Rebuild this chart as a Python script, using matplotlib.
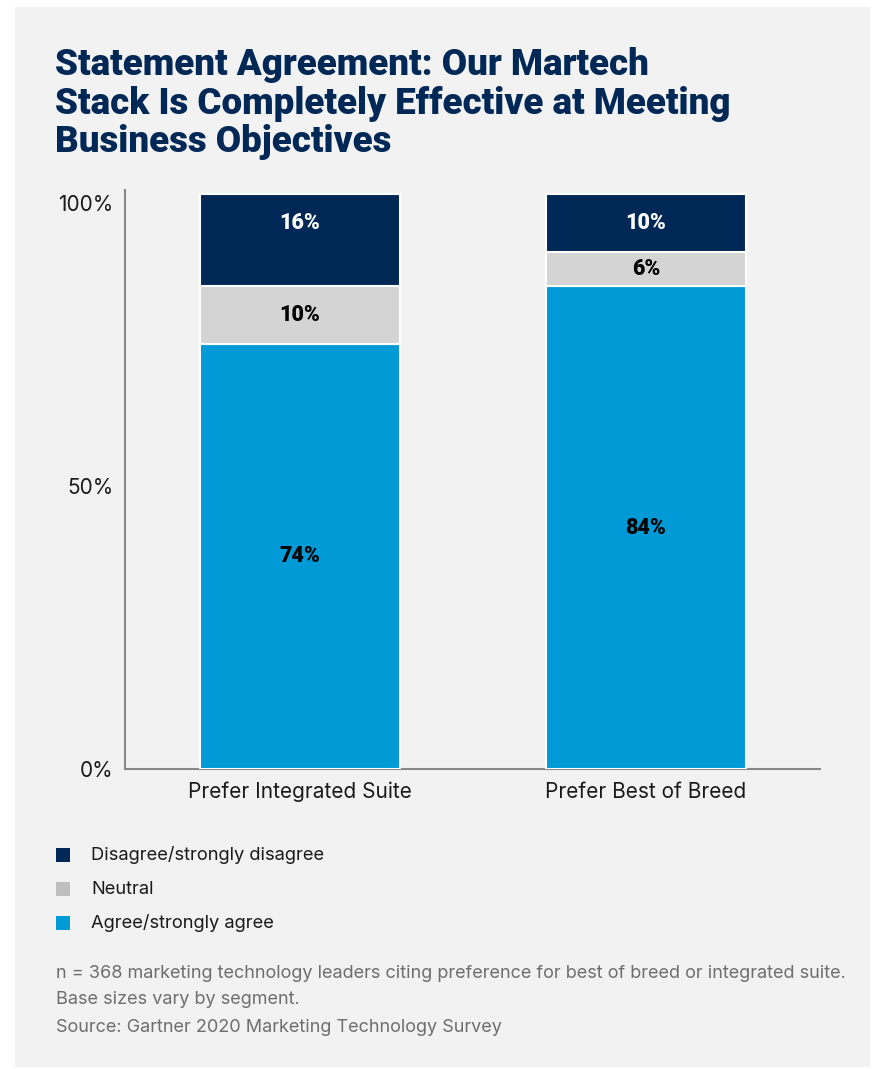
import matplotlib.pyplot as plt
import matplotlib.patches as mpatches
import matplotlib.transforms as mtransforms

# Survey shares per preference group (percent)
groups = ['Prefer Integrated Suite', 'Prefer Best of Breed']
agree = [74, 84]
neutral = [10, 6]
disagree = [16, 10]

series_names = ['Agree/strongly agree', 'Neutral', 'Disagree/strongly disagree']
y_ticks = [0, 50, 100]
y_tick_labels = ['0%', '50%', '100%']

title_lines = ['Statement Agreement: Our Martech',
               'Stack Is Completely Effective at Meeting',
               'Business Objectives']

NAVY = '#002856'
GRAY = '#d4d4d4'
BLUE = '#009ad7'

plt.rcParams['font.family'] = ['Inter', 'DejaVu Sans']

fig = plt.figure(figsize=(8.73, 10.69), dpi=100)
fig.patch.set_facecolor('white')

# light panel behind everything
fig.patches.append(mpatches.Rectangle((15 / 873, 2 / 1069), 855 / 873, 1060 / 1069,
                                      transform=fig.transFigure, facecolor='#f2f2f2',
                                      edgecolor='none', zorder=-10))

# title, one line at a time so the baselines stay fixed
for i, line in enumerate(title_lines):
    fig.text(55 / 873, 1 - (75 + i * 38.5) / 1069, line,
             fontsize=26.5, fontweight='black', color=NAVY, va='baseline', ha='left',
             family=['Roboto', 'DejaVu Sans'])

ax = fig.add_axes([125 / 873, 1 - 769 / 1069, 695 / 873, 579 / 1069])
ax.set_facecolor('none')

x = list(range(len(groups)))
width = 0.58
colors = [BLUE, GRAY, NAVY]
bottom = [0, 0]
for vals, col in zip([agree, neutral, disagree], colors):
    bars = ax.bar(x, vals, width, bottom=bottom, color=col, edgecolor='white',
                  linewidth=1.5)
    for b, v, b0 in zip(bars, vals, bottom):
        # top segment labels sit near the top of the bar
        yl = b0 + v - 5 if col == NAVY else b0 + v / 2
        ax.text(b.get_x() + b.get_width() / 2, yl, f'{v}%',
                ha='center', va='center', fontsize=15.5, fontweight='black',
                color='white' if col == NAVY else 'black',
                family=['Roboto', 'DejaVu Sans'])
    bottom = [b0 + v for b0, v in zip(bottom, vals)]

ax.set_xlim(-0.506, 1.503)
ax.set_ylim(0, 100.7)
ax.set_yticks(y_ticks)
ax.set_yticklabels(y_tick_labels)
ax.set_xticks(x)
ax.set_xticklabels(groups)
ax.tick_params(length=0, colors='#1a1a1a')
ax.tick_params(axis='y', pad=8.5, labelsize=15)
ax.tick_params(axis='x', pad=9, labelsize=15)
for lab, dy in zip(ax.get_yticklabels(), [0, 4, 9]):
    lab.set_transform(lab.get_transform() +
                      mtransforms.ScaledTranslation(0, -dy / 100, fig.dpi_scale_trans))
for s in ['top', 'right']:
    ax.spines[s].set_visible(False)
for s in ['left', 'bottom']:
    ax.spines[s].set_color('#888888')
    ax.spines[s].set_linewidth(1.5)
    ax.spines[s].set_zorder(0)

# legend, top to bottom
legend_items = [(NAVY, series_names[2]), ('#bfbfbf', series_names[1]), (BLUE, series_names[0])]
for i, (col, name) in enumerate(legend_items):
    yc = 1 - (855 + i * 34) / 1069
    fig.patches.append(mpatches.Rectangle((56 / 873, yc - 7 / 1069), 14 / 873, 14 / 1069,
                                          transform=fig.transFigure, facecolor=col,
                                          edgecolor='none'))
    fig.text(91 / 873, yc, name, fontsize=13.2, color='#1a1a1a', va='center', ha='left')

notes = ['n = 368 marketing technology leaders citing preference for best of breed or integrated suite.',
         'Base sizes vary by segment.',
         'Source: Gartner 2020 Marketing Technology Survey']
for i, line in enumerate(notes):
    fig.text(56 / 873, 1 - (973 + i * 27) / 1069, line, fontsize=13, color='#6e6e6e',
             va='center', ha='left')

fig.savefig('out.png', dpi=100, facecolor='white')
